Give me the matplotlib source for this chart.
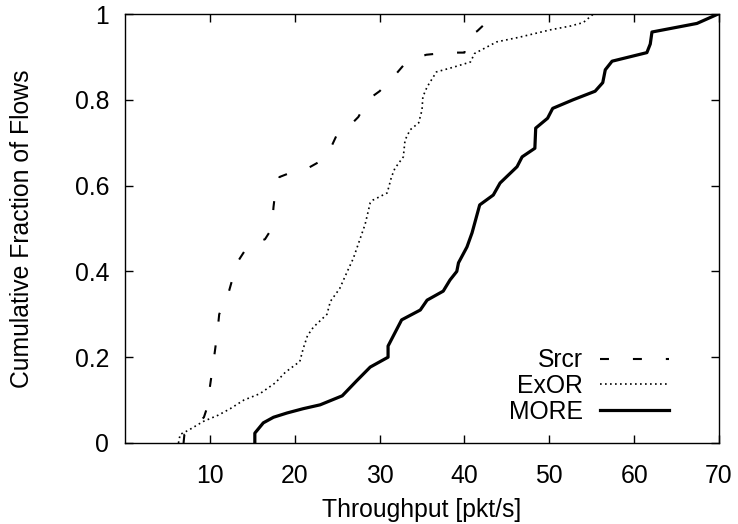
import matplotlib
matplotlib.use("Agg")
import matplotlib.pyplot as plt

plt.rcParams['font.family'] = ['Liberation Sans', 'DejaVu Sans']

srcr_x = [6.9, 7.0, 8.3, 9.3, 9.8, 10.0, 10.5, 10.9, 11.1, 12.2, 13.2, 14.5, 16.5, 17.3, 17.5, 17.8,
          18.2, 19.5, 21.5, 23.3, 24.3, 25.0, 26.5, 27.5, 28.6, 30.0, 31.5, 32.8, 34.0, 35.5, 38.0,
          40.0, 40.2, 40.6, 41.5, 42.3, 43.0, 43.0]
srcr_y = [0, 0.02, 0.04, 0.06, 0.09, 0.13, 0.2, 0.26, 0.30, 0.35, 0.42, 0.46, 0.475, 0.50, 0.55, 0.60,
          0.62, 0.63, 0.64, 0.66, 0.69, 0.72, 0.74, 0.76, 0.80, 0.82, 0.85, 0.88, 0.895, 0.905, 0.91,
          0.91, 0.93, 0.95, 0.96, 0.975, 0.99, 1.0]

exor_x = [6.3, 6.5, 7.5, 9.2, 11.0, 12.4, 14.0, 15.9, 17.7, 18.9, 20.6, 21.0, 21.5, 22.2, 23.8, 24.2,
          25.3, 26.2, 26.9, 27.6, 28.3, 28.9, 29.2, 30.9, 31.4, 31.8, 32.8, 33.0, 33.6, 34.6, 35.0,
          35.1, 35.6, 36.7, 38.7, 40.7, 41.2, 43.8, 46.5, 50.1, 52.5, 54.0, 55.2]
exor_y = [0, 0.02, 0.03, 0.05, 0.065, 0.08, 0.10, 0.115, 0.14, 0.165, 0.19, 0.22, 0.25, 0.27, 0.30, 0.33,
          0.36, 0.40, 0.43, 0.47, 0.51, 0.56, 0.566, 0.583, 0.62, 0.64, 0.667, 0.706, 0.73, 0.746, 0.776,
          0.807, 0.83, 0.865, 0.876, 0.888, 0.908, 0.935, 0.946, 0.963, 0.972, 0.98, 1.0]

more_x = [15.3, 15.3, 16.3, 17.5, 19.1, 21.0, 23.0, 25.6, 27.3, 28.9, 31.0, 31.0, 32.6, 34.8, 35.6,
          37.5, 38.3, 39.1, 39.3, 40.3, 40.9, 41.8, 43.4, 44.2, 46.2, 46.8, 48.3, 48.4, 49.8, 50.4,
          52.8, 55.4, 56.3, 56.6, 57.4, 61.5, 61.9, 62.1, 67.4, 69.9]
more_y = [0, 0.023, 0.047, 0.06, 0.07, 0.08, 0.089, 0.11, 0.145, 0.177, 0.2, 0.226, 0.287, 0.31, 0.333,
          0.354, 0.38, 0.40, 0.42, 0.457, 0.49, 0.555, 0.578, 0.606, 0.644, 0.667, 0.687, 0.734, 0.757, 0.78,
          0.80, 0.82, 0.84, 0.87, 0.89, 0.91, 0.93, 0.958, 0.978, 1.0]

x_ticks = [10, 20, 30, 40, 50, 60, 70]
y_ticks = [0, 0.2, 0.4, 0.6, 0.8, 1]
y_ticklabels = ['0', '0.2', '0.4', '0.6', '0.8', '1']

FS = 17.8

fig = plt.figure(figsize=(7.38, 5.24), dpi=100)
ax = fig.add_axes([125/738, 81/524, 594/738, 429/524])

ax.plot(srcr_x, srcr_y, color='black', lw=1.5, linestyle=(0, (4.3, 11.5)), label='Srcr')
ax.plot(exor_x, exor_y, color='black', lw=1.2, linestyle=(0, (1, 2)), label='ExOR')
ax.plot(more_x, more_y, color='black', lw=2.3, label='MORE')

ax.set_xlim(0, 70)
ax.set_ylim(0, 1)
ax.set_xticks(x_ticks)
ax.set_yticks(y_ticks)
ax.set_yticklabels(y_ticklabels)
ax.tick_params(direction='in', top=True, right=True, length=6, width=1, labelsize=FS)
ax.tick_params(axis='x', pad=15)
ax.tick_params(axis='y', pad=11.5)
for s in ax.spines.values():
    s.set_linewidth(1)
ax.set_xlabel('Throughput [pkt/s]', fontsize=FS, labelpad=7)
ax.set_ylabel('Cumulative Fraction of Flows', fontsize=FS, labelpad=29)

leg = ax.legend(loc='lower right', bbox_to_anchor=(0.916, 0.045), frameon=False, markerfirst=False,
                fontsize=FS, handlelength=2.8, handletextpad=0.68, labelspacing=0.07,
                borderpad=0, borderaxespad=0)

fig.savefig('out.png', dpi=100)
